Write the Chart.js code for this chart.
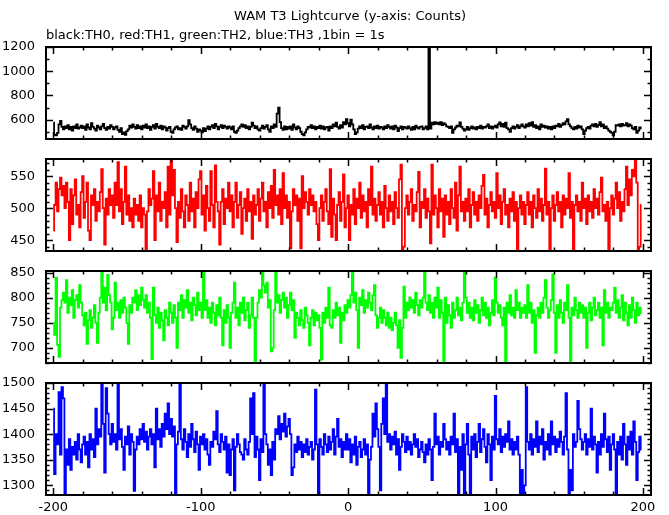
<!DOCTYPE html>
<html>
<head>
<meta charset="utf-8">
<script src="https://cdn.jsdelivr.net/npm/chart.js@4.4.1/dist/chart.umd.min.js"></script>
<style>
  html, body { margin: 0; padding: 0; background: #fff; }
  #wrap { position: relative; width: 669px; height: 515px; }
  #wrap canvas { position: absolute; left: 0; top: 0; }
</style>
</head>
<body>
<div id="wrap">
  <canvas id="c0" width="669" height="515"></canvas>
  <canvas id="c1" width="669" height="515"></canvas>
  <canvas id="c2" width="669" height="515"></canvas>
  <canvas id="c3" width="669" height="515"></canvas>
</div>
<script>
// light curve, 1bin = 1s, first bin at t = -200
const tStart = -200;

// TH0 (black)
const th0 = [
  575, 475, 470, 490, 560, 590, 540, 520, 545, 530, 555, 520, 540, 510, 545, 530, 560, 525, 535, 550,
  530, 545, 515, 560, 535, 520, 570, 540, 525, 510, 550, 535, 520, 545, 565, 530, 515, 540, 525, 555,
  540, 520, 535, 545, 515, 500, 530, 480, 495, 475, 505, 520, 550, 535, 560, 540, 525, 555, 530, 545,
  520, 550, 535, 560, 530, 545, 515, 540, 555, 525, 565, 540, 530, 550, 520, 545, 535, 510, 530, 540,
  500, 490, 520, 535, 545, 520, 530, 515, 550, 540, 525, 545, 595, 560, 530, 515, 545, 525, 500, 520,
  510, 495, 530, 505, 525, 545, 520, 540, 555, 530, 565, 545, 520, 540, 555, 530, 550, 540, 525, 545,
  535, 520, 545, 500, 490, 510, 530, 545, 560, 540, 555, 530, 545, 520, 540, 575, 550, 530, 545, 520,
  510, 530, 550, 525, 540, 555, 520, 500, 545, 530, 560, 540, 650, 700, 580, 530, 515, 545, 520, 540,
  525, 545, 515, 560, 535, 520, 545, 530, 500, 480, 470, 495, 520, 540, 535, 555, 530, 545, 520, 540,
  530, 550, 525, 545, 520, 535, 540, 510, 545, 530, 560, 545, 575, 540, 525, 555, 535, 580, 560, 605,
  570, 545, 600, 560, 520, 480, 495, 525, 545, 530, 555, 520, 540, 545, 530, 560, 535, 520, 545, 530,
  550, 525, 540, 535, 520, 545, 530, 555, 540, 525, 545, 520, 550, 535, 505, 530, 545, 520, 540, 535,
  525, 545, 530, 515, 540, 520, 550, 535, 525, 540, 545, 520, 530, 545, 520, 1300, 525, 575, 560, 580,
  565, 575, 560, 580, 555, 570, 560, 545, 540, 530, 545, 490, 520, 535, 550, 545, 578, 540, 525, 510,
  520, 540, 515, 530, 545, 525, 535, 520, 540, 530, 550, 525, 540, 535, 545, 560, 530, 545, 525, 540,
  550, 535, 560, 578, 545, 565, 540, 575, 530, 520, 500, 530, 545, 525, 540, 555, 530, 545, 560, 545,
  535, 560, 545, 570, 550, 580, 540, 555, 530, 545, 520, 560, 540, 550, 535, 545, 525, 540, 520, 545,
  530, 550, 545, 565, 540, 555, 570, 560, 585, 605, 560, 545, 530, 520, 540, 525, 550, 535, 545, 520,
  480, 510, 530, 540, 525, 550, 560, 545, 565, 540, 555, 580, 545, 560, 530, 545, 525, 510, 500, 490,
  470, 500, 555, 550, 560, 545, 565, 550, 555, 570, 545, 560, 550, 530, 520, 540, 490, 510, 535, 525
];

// TH1 (red)
const th1 = [
  465, 505, 540, 495, 530, 548, 520, 535, 500, 540, 510, 450, 530, 475, 520, 545, 490, 505, 470, 525,
  550, 485, 510, 540, 465, 450, 520, 505, 530, 480, 510, 495, 525, 561, 500, 443, 515, 490, 530, 505,
  520, 485, 540, 505, 572, 495, 530, 475, 510, 565, 490, 520, 480, 500, 470, 515, 490, 505, 480, 520,
  470, 500, 490, 435, 495, 530, 505, 515, 558, 450, 520, 495, 540, 480, 510, 500, 525, 470, 565, 490,
  576, 520, 560, 500, 447, 510, 485, 530, 495, 470, 520, 505, 480, 540, 495, 515, 470, 525, 500, 545,
  558, 490, 520, 465, 535, 500, 480, 558, 505, 470, 567, 510, 495, 443, 510, 530, 475, 515, 500, 540,
  495, 520, 470, 510, 540, 485, 505, 525, 460, 500, 515, 480, 530, 495, 510, 452, 520, 490, 505, 530,
  480, 515, 540, 495, 510, 470, 525, 500, 535, 485, 560, 505, 520, 490, 530, 475, 555, 500, 520, 485,
  510, 437, 495, 530, 505, 520, 480, 515, 437, 550, 500, 525, 510, 490, 530, 505, 520, 495, 510, 475,
  450, 500, 520, 480, 510, 530, 495, 475, 561, 455, 515, 490, 450, 505, 525, 480, 510, 553, 470, 500,
  520, 450, 505, 490, 530, 475, 515, 500, 540, 485, 520, 495, 510, 470, 530, 505, 565, 490, 515, 480,
  505, 525, 490, 510, 470, 535, 500, 480, 520, 495, 510, 475, 525, 500, 485, 545, 568, 435, 440, 500,
  520, 490, 510, 530, 480, 505, 495, 525, 557, 470, 510, 500, 530, 485, 515, 495, 445, 568, 490, 520,
  500, 470, 530, 495, 515, 455, 520, 490, 510, 475, 530, 500, 485, 540, 465, 520, 565, 495, 510, 480,
  515, 495, 530, 470, 505, 525, 490, 510, 480, 520, 500, 535, 552, 490, 515, 470, 505, 525, 495, 510,
  485, 555, 500, 520, 475, 510, 530, 490, 505, 470, 515, 495, 525, 480, 510, 435, 500, 520, 490, 510,
  475, 505, 525, 490, 510, 470, 520, 500, 485, 530, 495, 515, 480, 505, 562, 490, 510, 435, 500, 520,
  480, 505, 525, 495, 510, 470, 520, 490, 515, 500, 555, 485, 510, 435, 505, 520, 495, 510, 480, 540,
  500, 515, 475, 520, 495, 510, 485, 530, 500, 515, 490, 525, 548, 495, 505, 480, 510, 435, 500, 520,
  490, 515, 540, 500, 525, 480, 510, 495, 530, 565, 505, 545, 520, 560, 550, 576, 540, 435, 440, 505
];

// TH2 (green)
const th2 = [
  750, 726, 840, 706, 682, 780, 795, 810, 790, 835, 770, 800, 785, 815, 760, 795, 805, 780, 825, 790,
  765, 745, 770, 708, 755, 775, 740, 760, 785, 750, 710, 770, 800, 852, 790, 820, 775, 845, 805, 790,
  737, 760, 830, 775, 790, 760, 795, 770, 800, 780, 750, 708, 785, 770, 800, 790, 815, 775, 805, 785,
  820, 795, 780, 805, 770, 790, 760, 678, 820, 765, 750, 780, 740, 770, 755, 715, 775, 760, 745, 790,
  770, 750, 785, 760, 700, 790, 775, 805, 760, 795, 780, 815, 770, 790, 755, 800, 785, 765, 810, 775,
  790, 760, 852, 775, 795, 760, 780, 750, 790, 770, 745, 785, 765, 800, 760, 705, 775, 750, 785, 760,
  700, 770, 790, 830, 760, 780, 745, 790, 770, 800, 755, 775, 790, 740, 765, 800, 760, 670, 760, 790,
  815, 800, 851, 825, 810, 830, 780, 795, 693, 700, 775, 852, 790, 805, 770, 795, 810, 780, 800, 760,
  785, 810, 775, 795, 720, 770, 760, 745, 775, 755, 740, 780, 765, 750, 705, 760, 775, 745, 770, 755,
  765, 740, 677, 770, 750, 780, 760, 820, 745, 740, 775, 760, 790, 765, 780, 710, 770, 755, 785, 770,
  795, 780, 805, 852, 790, 810, 775, 700, 800, 785, 815, 770, 795, 780, 810, 790, 775, 805, 825, 765,
  740, 760, 780, 750, 775, 760, 745, 770, 740, 760, 735, 750, 770, 745, 700, 755, 680, 740, 822, 760,
  790, 775, 800, 780, 795, 770, 810, 785, 765, 795, 780, 800, 852, 790, 775, 805, 770, 790, 760, 800,
  780, 820, 760, 795, 770, 672, 800, 750, 785, 765, 740, 790, 760, 775, 800, 765, 780, 755, 790, 852,
  800, 770, 790, 760, 780, 755, 795, 770, 785, 750, 775, 800, 765, 790, 760, 780, 745, 770, 795, 765,
  840, 790, 770, 785, 760, 745, 780, 672, 790, 770, 805, 765, 780, 760, 815, 775, 790, 760, 780, 770,
  785, 760, 825, 770, 790, 750, 775, 690, 765, 780, 760, 790, 770, 800, 835, 780, 760, 775, 795, 846,
  770, 690, 785, 760, 795, 770, 750, 790, 775, 825, 760, 672, 780, 765, 800, 775, 760, 790, 770, 785,
  760, 780, 700, 770, 790, 755, 780, 800, 765, 775, 790, 760, 780, 705, 815, 770, 790, 760, 780, 775,
  790, 820, 770, 795, 760, 780, 805, 755, 790, 770, 745, 785, 760, 800, 775, 750, 790, 765, 780, 769
];

// TH3 (blue)
const th3 = [
  1450, 1322, 1400, 1380, 1482, 1360, 1492, 1470, 1282, 1370, 1340, 1390, 1330, 1375, 1360, 1385, 1350, 1400, 1370, 1345,
  1380, 1395, 1360, 1385, 1335, 1400, 1370, 1390, 1355, 1450, 1380, 1410, 1395, 1498, 1420, 1325, 1490, 1440, 1400, 1380,
  1420, 1385, 1400, 1370, 1498, 1390, 1410, 1375, 1330, 1395, 1380, 1415, 1360, 1400, 1385, 1289, 1370, 1395, 1380, 1410,
  1390, 1420, 1385, 1405, 1370, 1395, 1410, 1380, 1400, 1335, 1450, 1390, 1410, 1375, 1420, 1395, 1440, 1410, 1460, 1400,
  1430, 1395, 1415, 1282, 1380, 1405, 1498, 1390, 1370, 1410, 1385, 1355, 1400, 1375, 1420, 1390, 1365, 1405, 1380, 1330,
  1395, 1380, 1400, 1370, 1390, 1360, 1340, 1385, 1375, 1405, 1390, 1445, 1380, 1365, 1400, 1385, 1370, 1395, 1325, 1380,
  1320, 1370, 1390, 1290, 1375, 1400, 1380, 1365, 1360, 1350, 1390, 1370, 1360, 1385, 1470, 1400, 1480, 1355, 1395, 1370,
  1310, 1390, 1365, 1500, 1400, 1380, 1340, 1370, 1320, 1385, 1350, 1410, 1400, 1435, 1390, 1420, 1405, 1440, 1395, 1415,
  1430, 1400, 1320, 1335, 1380, 1365, 1395, 1370, 1385, 1355, 1380, 1365, 1390, 1360, 1375, 1385, 1350, 1370, 1487, 1380,
  1282, 1390, 1375, 1360, 1400, 1380, 1365, 1395, 1370, 1385, 1410, 1360, 1395, 1430, 1375, 1390, 1355, 1385, 1370, 1400,
  1370, 1390, 1345, 1380, 1360, 1395, 1340, 1375, 1385, 1355, 1370, 1390, 1360, 1380, 1282, 1350, 1375, 1440, 1395, 1460,
  1410, 1375, 1290, 1420, 1470, 1400, 1500, 1385, 1400, 1370, 1395, 1380, 1405, 1360, 1390, 1330, 1375, 1400, 1385, 1365,
  1395, 1370, 1385, 1360, 1380, 1400, 1375, 1390, 1355, 1370, 1385, 1365, 1345, 1380, 1360, 1390, 1370, 1310, 1375, 1440,
  1380, 1395, 1360, 1385, 1375, 1420, 1390, 1370, 1385, 1360, 1395, 1380, 1440, 1365, 1390, 1282, 1375, 1330, 1400, 1282,
  1380, 1420, 1360, 1282, 1395, 1370, 1400, 1355, 1385, 1420, 1365, 1390, 1410, 1375, 1345, 1400, 1380, 1310, 1395, 1370,
  1475, 1390, 1380, 1410, 1365, 1395, 1375, 1400, 1385, 1425, 1370, 1390, 1360, 1385, 1370, 1395, 1360, 1282, 1330, 1282,
  1300, 1492, 1385, 1370, 1400, 1360, 1390, 1375, 1425, 1365, 1395, 1380, 1410, 1350, 1385, 1370, 1400, 1360, 1425, 1380,
  1395, 1365, 1390, 1375, 1405, 1385, 1360, 1395, 1480, 1370, 1282, 1330, 1290, 1400, 1375, 1385, 1465, 1410, 1390, 1370,
  1385, 1400, 1360, 1390, 1375, 1450, 1370, 1395, 1380, 1325, 1385, 1360, 1400, 1375, 1440, 1390, 1365, 1395, 1330, 1380,
  1400, 1370, 1282, 1385, 1360, 1395, 1350, 1420, 1380, 1340, 1395, 1370, 1405, 1360, 1425, 1385, 1310, 1365, 1395, 1370
];

// tick labels
const xTicks = [-200, -100, 0, 100, 200];
const th0Ticks = [600, 800, 1000, 1200];
const th1Ticks = [450, 500, 550];
const th2Ticks = [700, 750, 800, 850];
const th3Ticks = [1300, 1350, 1400, 1450, 1500];

const FONT = { family: "'DejaVu Sans', sans-serif", size: 13 };

const panels = [
  { id: "c0", data: th0, color: "#000000", min: 440, max: 1200, ticks: th0Ticks, minor: 100, top: 47 },
  { id: "c1", data: th1, color: "#ff0000", min: 433, max: 577, ticks: th1Ticks, minor: 10, top: 159 },
  { id: "c2", data: th2, color: "#00ff00", min: 670, max: 853, ticks: th2Ticks, minor: 10, top: 271 },
  { id: "c3", data: th3, color: "#0000ff", min: 1281, max: 1500, ticks: th3Ticks, minor: 10, top: 383 },
];

// frame and inward tick marks on all four sides
const frameTicks = {
  id: "frameTicks",
  afterDatasetsDraw(chart, args, opts) {
    const { ctx, chartArea: a, scales: { x, y } } = chart;
    ctx.save();
    ctx.strokeStyle = "#000";
    ctx.lineWidth = 1.5;
    ctx.beginPath();
    for (let v = -200; v <= 200; v += 20) {
      const px = Math.round(x.getPixelForValue(v)) + 0.5;
      const len = v % 100 === 0 ? 7 : 3.5;
      ctx.moveTo(px, a.top);
      ctx.lineTo(px, a.top + len);
      ctx.moveTo(px, a.bottom);
      ctx.lineTo(px, a.bottom - len);
    }
    const first = Math.ceil(y.min / opts.minor) * opts.minor;
    for (let v = first; v <= y.max; v += opts.minor) {
      const py = Math.round(y.getPixelForValue(v)) + 0.5;
      const len = opts.major.includes(v) ? 7 : 3.5;
      ctx.moveTo(a.left, py);
      ctx.lineTo(a.left + len, py);
      ctx.moveTo(a.right, py);
      ctx.lineTo(a.right - len, py);
    }
    ctx.stroke();
    ctx.lineWidth = 2;
    ctx.strokeRect(a.left, a.top, a.right - a.left, a.bottom - a.top);
    ctx.restore();
  },
};

const titles = {
  id: "titles",
  afterDraw(chart) {
    const ctx = chart.ctx;
    ctx.save();
    ctx.fillStyle = "#000";
    ctx.font = "13px 'DejaVu Sans'";
    ctx.textBaseline = "middle";
    ctx.textAlign = "center";
    ctx.fillText("WAM T3 Lightcurve (y-axis: Counts)", 350, 17);
    ctx.textAlign = "left";
    ctx.fillText("black:TH0, red:TH1, green:TH2, blue:TH3 ,1bin = 1s", 46, 36);
    ctx.restore();
  },
};

panels.forEach((p, i) => {
  const last = i === panels.length - 1;
  const points = p.data.map((v, k) => ({ x: tStart + k, y: v }));
  const plugins = [frameTicks];
  if (i === 0) plugins.push(titles);

  new Chart(document.getElementById(p.id), {
    type: "line",
    data: {
      datasets: [
        {
          data: points,
          borderColor: p.color,
          borderWidth: 1.8,
          pointRadius: 0,
          stepped: "middle",
          fill: false,
        },
      ],
    },
    plugins: plugins,
    options: {
      responsive: false,
      animation: false,
      events: [],
      layout: {
        padding: { left: 0, right: 18, top: p.top, bottom: 515 - p.top - 112 - (last ? 20 : 0) },
      },
      plugins: {
        legend: { display: false },
        tooltip: { enabled: false },
        frameTicks: { minor: p.minor, major: p.ticks },
      },
      scales: {
        x: {
          type: "linear",
          min: -205,
          max: 205.5,
          display: last,
          grid: { display: false, drawTicks: false },
          border: { display: false },
          afterBuildTicks: (s) => { s.ticks = xTicks.map((v) => ({ value: v })); },
          afterFit: (s) => { s.height = 20; },
          ticks: { color: "#000", font: FONT, padding: 5, maxRotation: 0, autoSkip: false,
                   callback: (v) => String(v) },
        },
        y: {
          min: p.min,
          max: p.max,
          grid: { display: false, drawTicks: false },
          border: { display: false },
          afterBuildTicks: (s) => { s.ticks = p.ticks.map((v) => ({ value: v })); },
          afterFit: (s) => { s.width = 46; },
          ticks: { color: "#000", font: FONT, padding: 11, callback: (v) => String(v) },
        },
      },
    },
  });
});
</script>
</body>
</html>
